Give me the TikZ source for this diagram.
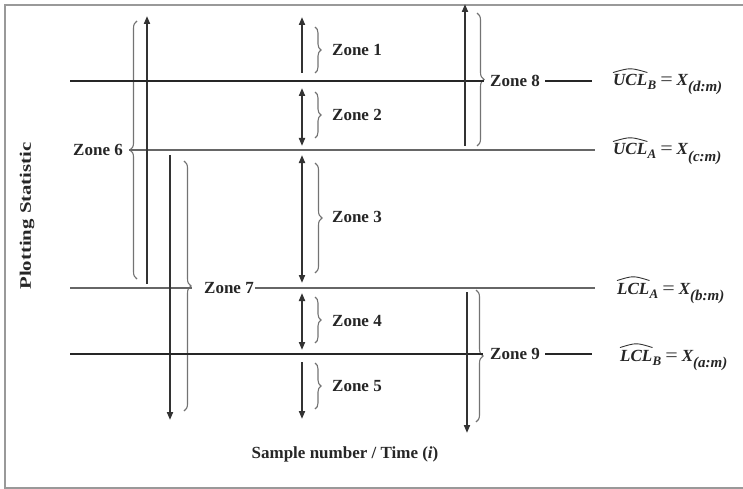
\documentclass[tikz,border=0pt]{standalone}
\usepackage{fontspec}
\setmainfont{Liberation Serif}
\usetikzlibrary{arrows.meta,decorations.pathreplacing}
\newcommand{\subt}[3]{\raisebox{#1}{\fontsize{#2}{#2}\selectfont #3}}
\newcommand{\eqs}{\hspace{4pt}{\upshape\mdseries\scalebox{1.3}[1.1]{=}}\hspace{4pt}}
\begin{document}
\begin{tikzpicture}[x=1pt,y=-1pt,
  thickline/.style={line width=2.8pt,color=black!85},
  thinline/.style={line width=1.4pt,color=black!60},
  zarrow/.style={line width=1.8pt,color=black!80,-{Triangle[length=8pt,width=6pt]}},
  zdarrow/.style={line width=1.8pt,color=black!80,{Triangle[length=8pt,width=6pt]}-{Triangle[length=8pt,width=6pt]}},
  zbrace/.style={line width=1.1pt,color=black!55,decorate,decoration={brace,amplitude=7pt,aspect=0.5}},
  sbrace/.style={line width=1.1pt,color=black!55,decorate,decoration={brace,amplitude=6pt,aspect=0.5}},
  zlabel/.style={font=\fontsize{17}{17}\selectfont\bfseries,inner sep=1pt,text=black!85},
  rlabel/.style={font=\fontsize{17}{17}\selectfont\bfseries\itshape,inner sep=0pt,anchor=base west,text=black!85},
  hatline/.style={line width=0.9pt,color=black!80},
  frameline/.style={line width=2pt,color=black!40}
]
\useasboundingbox (0,0) rectangle (743,489);
% frame
\draw[frameline] (743,5) -- (5,5) -- (5,488) -- (743,488);

% coordinates for horizontal lines
\coordinate (ubL) at (70,81);
\coordinate (ubR) at (592,81);
\coordinate (uaR) at (595,150);
\coordinate (laL) at (70,288);
\coordinate (laR) at (595,288);
\coordinate (lbL) at (70,354);
\coordinate (lbR) at (592,354);

% Zone 6 (brace pointing left)
\coordinate (b6t) at (137,21);
\coordinate (b6b) at (137,279);
\draw[zbrace] (b6b) -- (b6t);
\coordinate (b6tip) at (129,150);
\node[zlabel,anchor=east] (z6) at (124,150) {Zone 6};
\draw[thinline] (b6tip) -- (uaR);
\coordinate (a6b) at (147,284);
\coordinate (a6t) at (147,16);
\draw[zarrow] (a6b) -- (a6t);

% Zone 7
\coordinate (b7t) at (184,161);
\coordinate (b7b) at (184,411);
\draw[zbrace] (b7t) -- (b7b);
\node[zlabel,anchor=west] (z7) at (203,288) {Zone 7};
\draw[thinline] (laL) -- (192,288);
\draw[thinline] (z7.east) -- (laR);
\coordinate (a7t) at (170,155);
\coordinate (a7b) at (170,420);
\draw[zarrow] (a7t) -- (a7b);

% Zone 8
\coordinate (b8t) at (477,13);
\coordinate (b8b) at (477,146);
\draw[zbrace] (b8t) -- (b8b);
\node[zlabel,anchor=west] (z8) at (489,81) {Zone 8};
\coordinate (c8) at (545,81);
\draw[thickline] (ubL) -- (484,81);
\draw[thickline] (c8) -- (ubR);
\coordinate (a8b) at (465,146);
\coordinate (a8t) at (465,4);
\draw[zarrow] (a8b) -- (a8t);

% Zone 9
\coordinate (b9t) at (476,290);
\coordinate (b9b) at (476,422);
\draw[zbrace] (b9t) -- (b9b);
\node[zlabel,anchor=west] (z9) at (489,354) {Zone 9};
\coordinate (c9) at (545,354);
\draw[thickline] (lbL) -- (483,354);
\draw[thickline] (c9) -- (lbR);
\coordinate (a9t) at (467,292);
\coordinate (a9b) at (467,433);
\draw[zarrow] (a9t) -- (a9b);

% Zones 1-5
\coordinate (a1b) at (302,73);
\coordinate (a1t) at (302,17);
\draw[zarrow] (a1b) -- (a1t);
\draw[sbrace] (315,27) -- (315,73);
\node[zlabel,anchor=west] (z1) at (331,50) {Zone 1};

\coordinate (a2t) at (302,88);
\coordinate (a2b) at (302,146);
\draw[zdarrow] (a2t) -- (a2b);
\draw[sbrace] (315,92) -- (315,138);
\node[zlabel,anchor=west] (z2) at (331,115) {Zone 2};

\coordinate (a3t) at (302,155);
\coordinate (a3b) at (302,283);
\draw[zdarrow] (a3t) -- (a3b);
\draw[zbrace] (315,163) -- (315,273);
\node[zlabel,anchor=west] (z3) at (331,217) {Zone 3};

\coordinate (a4t) at (302,293);
\coordinate (a4b) at (302,350);
\draw[zdarrow] (a4t) -- (a4b);
\draw[sbrace] (315,297) -- (315,343);
\node[zlabel,anchor=west] (z4) at (331,321) {Zone 4};

\coordinate (a5t) at (302,362);
\coordinate (a5b) at (302,419);
\draw[zarrow] (a5t) -- (a5b);
\draw[sbrace] (315,363) -- (315,409);
\node[zlabel,anchor=west] (z5) at (331,386) {Zone 5};

% right labels
\node[rlabel] (ub) at (613,86) {UCL};
\node[rlabel] (ubr) at (ub.base east) {\subt{-4pt}{13}{B}\eqs X\subt{-6pt}{15}{(d:m)}};
\draw[hatline] ([yshift=2pt]ub.north west) .. controls ([yshift=7pt]ub.north) .. ([yshift=2pt]ub.north east);

\node[rlabel] (ua) at (613,155) {UCL};
\node[rlabel] (uar) at (ua.base east) {\subt{-4pt}{13}{A}\eqs X\subt{-6pt}{15}{(c:m)}};
\draw[hatline] ([yshift=2pt]ua.north west) .. controls ([yshift=7pt]ua.north) .. ([yshift=2pt]ua.north east);

\node[rlabel] (la) at (617,294) {LCL};
\node[rlabel] (lar) at (la.base east) {\subt{-4pt}{13}{A}\eqs X\subt{-6pt}{15}{(b:m)}};
\draw[hatline] ([yshift=2pt]la.north west) .. controls ([yshift=7pt]la.north) .. ([yshift=2pt]la.north east);

\node[rlabel] (lb) at (620,361) {LCL};
\node[rlabel] (lbr) at (lb.base east) {\subt{-4pt}{13}{B}\eqs X\subt{-6pt}{15}{(a:m)}};
\draw[hatline] ([yshift=2pt]lb.north west) .. controls ([yshift=7pt]lb.north) .. ([yshift=2pt]lb.north east);

% axis labels
\node[font=\fontsize{16}{16}\selectfont\bfseries,rotate=90,text=black!85] (ylab) at (27,216) {\scalebox{1.3}[1]{Plotting Statistic}};
\node[font=\fontsize{17}{17}\selectfont\bfseries,text=black!85] (xlab) at (345,454) {Sample number / Time (\textit{i})};
\end{tikzpicture}
\end{document}
